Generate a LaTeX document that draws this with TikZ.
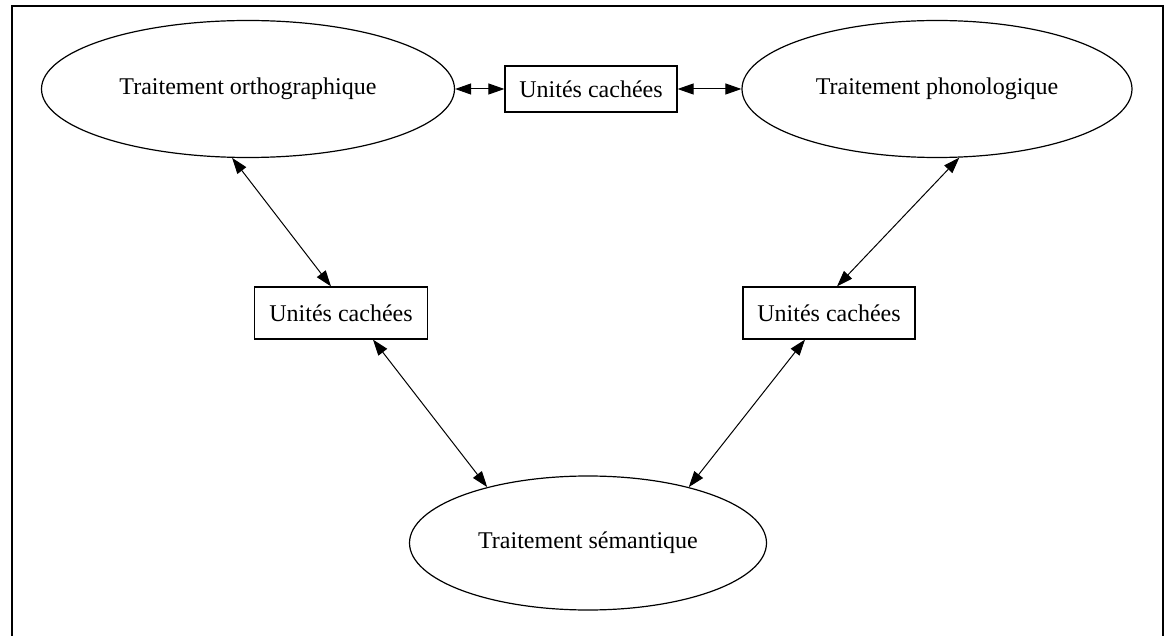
\documentclass[tikz,border=0pt]{standalone}
\usepackage{fontspec}
\setmainfont{Liberation Serif}
\usetikzlibrary{shapes.geometric,arrows.meta}
\begin{document}
\begin{tikzpicture}[x=1pt,y=-1pt,
  oval/.style={ellipse,draw,line width=1.2pt,inner sep=0pt,font=\fontsize{24}{28}\selectfont},
  hidbox/.style={rectangle,draw,line width=1.2pt,inner sep=0pt,font=\fontsize{24}{28}\selectfont},
  tip/.style={Triangle[length=16pt,width=12pt,fill=black]},
  link/.style={line width=1pt,{Triangle[length=16pt,width=11pt]}-{Triangle[length=16pt,width=11pt]}}]
\useasboundingbox (0,0) rectangle (1173,636);
\draw[line width=1.6pt] (12,640) -- (12,6) -- (1163,6) -- (1163,640);
\node[oval,minimum width=413pt,minimum height=137pt] (e1) at (248,89) {Traitement orthographique};
\node[oval,minimum width=390pt,minimum height=137pt] (e2) at (937,89) {Traitement phonologique};
\node[oval,minimum width=357pt,minimum height=134pt] (e3) at (588,543) {Traitement sémantique};
\node[hidbox,minimum width=172pt,minimum height=46pt] (bt) at (591,89) {Unités cachées};
\node[hidbox,minimum width=173pt,minimum height=52pt] (bl) at (341,313) {Unités cachées};
\node[hidbox,minimum width=172pt,minimum height=52pt] (br) at (829,313) {Unités cachées};
\draw[link] (e1.east) -- (bt.west);
\draw[link] (bt.east) -- (e2.west);
\draw[link] (e1.-103) -- ([xshift=-10pt]bl.north);
\draw[link] ([xshift=32pt]bl.south) -- (e3.151);
\draw[link] (e2.-72) -- ([xshift=8pt]br.north);
\draw[link] ([xshift=-24pt]br.south) -- (e3.29);
\end{tikzpicture}
\end{document}
